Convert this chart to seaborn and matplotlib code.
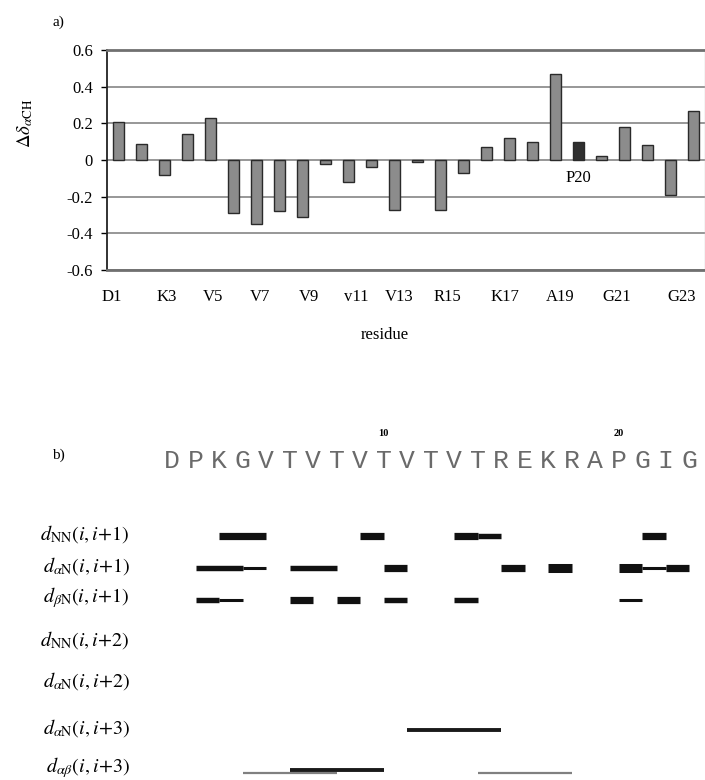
import pandas as pd
import matplotlib
matplotlib.use("Agg")
import matplotlib.pyplot as plt
import seaborn as sns

# a) secondary Halpha shifts, one bar per alpha proton (Gly has two)
bar_names = ["D1", "P2", "K3", "G4a", "G4b", "V5", "T6", "V7", "T8", "V9",
             "T10", "V11", "T12", "V13", "T14", "R15", "E16", "K17", "R18",
             "A19", "P20", "G21a", "G21b", "I22", "G23a", "G23b"]
shift_values = [0.21, 0.09, -0.08, 0.14, 0.23, -0.29, -0.35, -0.28, -0.31, -0.02,
                -0.12, -0.04, -0.27, -0.01, -0.27, -0.07, 0.07, 0.12, 0.10,
                0.47, 0.10, 0.02, 0.18, 0.08, -0.19, 0.27]
bar_kind = ["res"] * 20 + ["pro"] + ["res"] * 5
tick_labels = ["D1", "K3", "V5", "V7", "V9", "v11", "V13", "R15", "K17", "A19", "G21", "G23"]
tick_pos = [-0.3, 2.1, 4.1, 6.15, 8.3, 10.35, 12.2, 14.3, 16.8, 19.2, 21.65, 24.5]

# b) NOE connectivities: (row, from residue, to residue, strength)
sequence = list("DPKGVTVTVTVTVTREKRAPGIG")
row_labels = [r"$d_{\mathrm{NN}}(i,i\!+\!1)$", r"$d_{\alpha\mathrm{N}}(i,i\!+\!1)$",
              r"$d_{\beta\mathrm{N}}(i,i\!+\!1)$", r"$d_{\mathrm{NN}}(i,i\!+\!2)$",
              r"$d_{\alpha\mathrm{N}}(i,i\!+\!2)$", r"$d_{\alpha\mathrm{N}}(i,i\!+\!3)$",
              r"$d_{\alpha\beta}(i,i\!+\!3)$"]
noe_row = [0, 0, 0, 0, 0,
           1, 1, 1, 1, 1, 1, 1, 1, 1,
           2, 2, 2, 2, 2, 2, 2,
           5,
           6, 6, 6]
noe_from = [3, 9, 13, 14, 21,
            2, 4, 6, 10, 15, 17, 20, 21, 22,
            2, 3, 6, 8, 10, 13, 20,
            11,
            4, 14, 6]
noe_to = [5, 10, 14, 15, 22,
          4, 5, 8, 11, 16, 18, 21, 22, 23,
          3, 4, 7, 9, 11, 14, 21,
          15,
          8, 18, 10]
noe_level = ["s", "s", "s", "m", "s",
             "m", "w", "m", "s", "s", "vs", "vs", "w", "s",
             "m", "w", "s", "s", "m", "m", "w",
             "line",
             "faint", "faint", "line"]

plt.rcParams["font.family"] = ["Liberation Serif", "DejaVu Serif"]
plt.rcParams["mathtext.fontset"] = "stix"

fig = plt.figure(figsize=(7.05, 7.8), dpi=100)

# ---- panel a ----
ax = fig.add_axes([107 / 705, 1 - 270 / 780, 598 / 705, 220 / 780])
df = pd.DataFrame({"bar": bar_names, "shift": shift_values, "kind": bar_kind})
sns.barplot(data=df, x="bar", y="shift", hue="kind", order=bar_names,
            palette={"res": "#8c8c8c", "pro": "#303030"}, dodge=False,
            width=0.48, edgecolor="#2a2a2a", linewidth=1, legend=False, ax=ax)
ax.set_xlim(-0.5, 25.5)
ax.set_ylim(-0.6, 0.6)
ax.set_yticks([0.6, 0.4, 0.2, 0, -0.2, -0.4, -0.6])
ax.set_yticklabels(["0.6", "0.4", "0.2", "0", "-0.2", "-0.4", "-0.6"], fontsize=12)
ax.set_xticks(tick_pos)
ax.set_xticklabels(tick_labels, fontsize=12)
ax.tick_params(axis="x", length=0, pad=14)
ax.tick_params(axis="y", length=4, width=1, direction="out", pad=6)
ax.set_axisbelow(True)
ax.yaxis.grid(True, color="#7a7a7a", lw=1.1)
ax.set_xlabel("")
ax.set_ylabel("")
for side in ["top", "bottom"]:
    ax.spines[side].set_color("#707070")
    ax.spines[side].set_linewidth(2)
ax.spines["left"].set_color("#222222")
ax.spines["left"].set_linewidth(1.3)
ax.spines["right"].set_color("#c8c8c8")
ax.spines["right"].set_linewidth(1)
ax.text(20, -0.1, "P20", ha="center", va="center", fontsize=12)

fig.text(58 / 705, 1 - 22 / 780, "a)", ha="center", va="center", fontsize=11)
fig.text(25 / 705, 1 - 123 / 780, r"$\Delta\delta_{\alpha\mathrm{CH}}$",
         rotation=90, ha="center", va="center", fontsize=13.5)
fig.text(385 / 705, 1 - 335 / 780, "residue", ha="center", va="center", fontsize=12)

# ---- panel b ----
bx = fig.add_axes([0, 0, 1, 360 / 780])
bx.set_xlim(1 - 172 / 23.5, 1 - 172 / 23.5 + 705 / 23.5)
bx.set_ylim(780, 420)
bx.axis("off")

row_y = [536, 568, 600, 642, 683, 730, 770]
widths = {"vs": 6.5, "s": 5.2, "m": 3.9, "w": 2.2, "line": 2.8, "faint": 1.6}
colors = {"vs": "#111111", "s": "#111111", "m": "#111111", "w": "#111111",
          "line": "#1a1a1a", "faint": "#808080"}
shifts = {"vs": 0, "s": 0, "m": 0, "w": 0, "line": 0, "faint": 3}

for r, a, b, lev in zip(noe_row, noe_from, noe_to, noe_level):
    bx.hlines(row_y[r] + shifts[lev], a, b, color=colors[lev], lw=widths[lev],
              capstyle="butt")

for i, aa in enumerate(sequence):
    bx.text(i + 1, 461, aa, ha="center", va="center", fontsize=19,
            family="Liberation Mono", color="#6a6a6a")
bx.text(10, 434, "10", ha="center", va="center", fontsize=7.5, fontweight="bold")
bx.text(20, 434, "20", ha="center", va="center", fontsize=7.5, fontweight="bold")
bx.text(1 - 114 / 23.5, 455, "b)", ha="center", va="center", fontsize=11)

for lab, y in zip(row_labels, row_y):
    bx.text(1 - 42 / 23.5, y - 2, lab, ha="right", va="center", fontsize=14.5)

fig.savefig("out.png", dpi=100)
